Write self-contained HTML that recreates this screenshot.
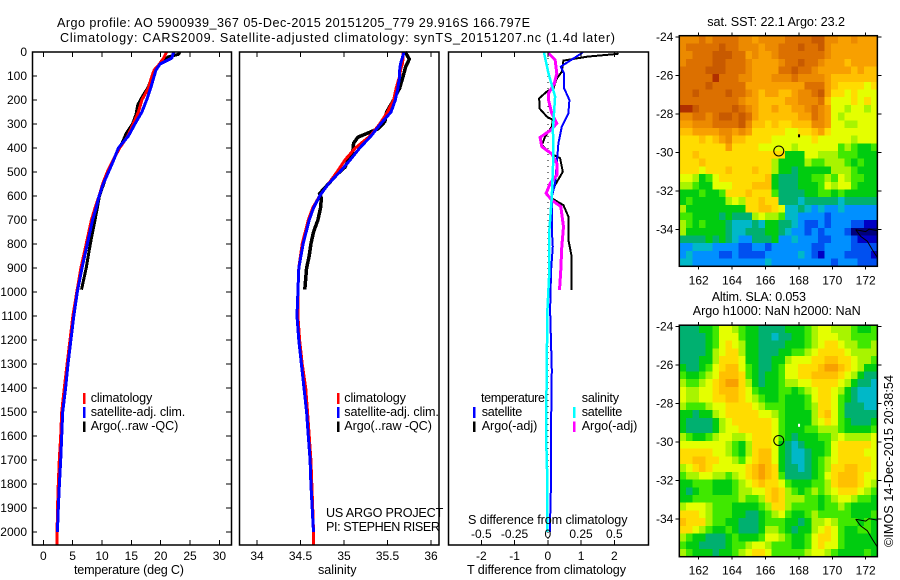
<!DOCTYPE html>
<html lang="en">
<head>
<meta charset="utf-8">
<title>Argo profile</title>
<style>
html,body{margin:0;padding:0;background:#fff;}
#chart{display:block;width:900px;height:580px;}
text{font-family:"Liberation Sans",sans-serif;font-size:12.6px;fill:#000;}
#ticks text{font-size:12px;}
</style>
</head>
<body>
<svg id="chart" xmlns="http://www.w3.org/2000/svg" width="900" height="580" viewBox="0 0 900 580">
  <text x="57" y="27" textLength="473" lengthAdjust="spacing">Argo profile: AO 5900939_367 05-Dec-2015 20151205_779 29.916S 166.797E</text>
  <text x="60" y="42" textLength="555" lengthAdjust="spacing">Climatology: CARS2009. Satellite-adjusted climatology: synTS_20151207.nc (1.4d later)</text>

  <g id="map1"></g>
  <g id="map2"></g>
  <g id="panel1"></g>
  <g id="panel2"></g>
  <g id="panel3"></g>
  <g id="ticks"></g>

  <text x="74" y="574" textLength="110" lengthAdjust="spacing">temperature (deg C)</text>
  <text x="318" y="574" textLength="38.5" lengthAdjust="spacing">salinity</text>
  <text x="467" y="574" textLength="159" lengthAdjust="spacing">T difference from climatology</text>
  <text x="468" y="524" textLength="159.5" lengthAdjust="spacing">S difference from climatology</text>

  <g>
    <rect x="83" y="393" width="2.5" height="11" fill="#ff0000"/>
    <text x="90.7" y="402" textLength="61.6" lengthAdjust="spacing">climatology</text>
    <rect x="83" y="407" width="2.5" height="11" fill="#0000ff"/>
    <text x="90.7" y="416" textLength="94.6" lengthAdjust="spacing">satellite-adj. clim.</text>
    <rect x="83" y="421.5" width="2.5" height="10.5" fill="#000000"/>
    <text x="90.7" y="430" textLength="87.6" lengthAdjust="spacing">Argo(..raw -QC)</text>
  </g>
  <g>
    <rect x="337" y="393" width="2.5" height="11" fill="#ff0000"/>
    <text x="344.3" y="402" textLength="61.6" lengthAdjust="spacing">climatology</text>
    <rect x="337" y="407" width="2.5" height="11" fill="#0000ff"/>
    <text x="344.3" y="416" textLength="94.6" lengthAdjust="spacing">satellite-adj. clim.</text>
    <rect x="337" y="421.5" width="2.5" height="10.5" fill="#000000"/>
    <text x="344.3" y="430" textLength="87.6" lengthAdjust="spacing">Argo(..raw -QC)</text>
  </g>
  <text x="326" y="517" textLength="117.3" lengthAdjust="spacing">US ARGO PROJECT</text>
  <text x="326" y="531" textLength="114" lengthAdjust="spacing">PI: STEPHEN RISER</text>
  <g>
    <text x="481" y="402" textLength="64" lengthAdjust="spacing">temperature</text>
    <text x="581.7" y="402" textLength="37.3" lengthAdjust="spacing">salinity</text>
    <rect x="473" y="407" width="2.5" height="11" fill="#0000ff"/>
    <text x="481.7" y="416" textLength="40.6" lengthAdjust="spacing">satellite</text>
    <rect x="473" y="421.5" width="2.5" height="10.5" fill="#000000"/>
    <text x="481.7" y="430" textLength="55.6" lengthAdjust="spacing">Argo(-adj)</text>
    <rect x="573" y="407" width="2.5" height="11" fill="#00ffff"/>
    <text x="581.7" y="416" textLength="40.6" lengthAdjust="spacing">satellite</text>
    <rect x="573" y="421.5" width="2.5" height="10.5" fill="#ff00ff"/>
    <text x="581.7" y="430" textLength="55.6" lengthAdjust="spacing">Argo(-adj)</text>
  </g>

  <text x="707.3" y="26" textLength="137.7" lengthAdjust="spacing">sat. SST: 22.1 Argo: 23.2</text>
  <text x="711.7" y="301" textLength="94.3" lengthAdjust="spacing">Altim. SLA: 0.053</text>
  <text x="692.7" y="315" textLength="168" lengthAdjust="spacing">Argo h1000: NaN h2000: NaN</text>
  <text transform="translate(893,547) rotate(-90)" x="0" y="0" textLength="172" lengthAdjust="spacing">©IMOS 14-Dec-2015 20:38:54</text>
</svg>

<script>
// ---- profile data ----
const climDepth = [0,25,50,75,100,150,200,250,300,350,400,450,500,550,600,650,700,800,900,1000,1100,1200,1300,1400,1500,1600,1700,1800,1900,2000,2054];
const climTemp = [21,20.5,19.8,18.9,18.5,17.9,16.8,16.2,15.3,14.4,13,11.9,10.9,10.1,9.5,8.8,8.2,7.3,6.4,5.7,5.05,4.55,4.05,3.58,3.13,2.96,2.73,2.55,2.42,2.35,2.35];
const climSal = [35.68,35.68,35.67,35.65,35.64,35.6,35.57,35.5,35.41,35.3,35.13,35.01,34.92,34.82,34.72,34.64,34.59,34.52,34.48,34.47,34.47,34.49,34.52,34.56,34.58,34.6,34.62,34.63,34.64,34.65,34.65];

const satDepth = [0,25,50,75,100,150,200,250,300,350,400,450,500,550,600,650,700,800,900,1000,1100,1200,1300,1400,1500,1600,1700,1800,1900,2000];
const satTemp = [22.2,21.9,19.9,19.2,18.9,18.3,17.6,16.8,15.6,14.5,12.8,12,11.1,10.2,9.5,9,8.4,7.5,6.6,5.8,5.2,4.7,4.2,3.8,3.3,3.13,2.96,2.75,2.55,2.4];
const satSal = [35.69,35.67,35.65,35.64,35.64,35.62,35.59,35.54,35.42,35.31,35.18,35.07,34.95,34.82,34.72,34.65,34.6,34.53,34.48,34.47,34.46,34.48,34.51,34.54,34.57,34.59,34.61,34.62,34.635,34.65];

const argoTempDepth = [0,10,20,50,75,100,150,180,220,260,300,340,380,420,500,600,650,700,800,900,990];
const argoTemp = [23.3,23,21.3,19.9,19,18.6,17.8,17,16.1,15.8,15.2,14.1,13.4,12.5,11,9.55,9.2,8.8,8,7.3,6.5];

const argoSalDepth = [0,10,30,60,100,150,200,250,290,320,340,355,380,420,450,480,510,550,590,610,650,700,750,800,850,900,990];
const argoSal = [35.7,35.72,35.75,35.71,35.68,35.64,35.57,35.49,35.47,35.39,35.26,35.16,35.11,35.1,35.05,35.01,34.92,34.82,34.72,34.74,34.73,34.7,34.65,34.62,34.6,34.57,34.55];

const diffArgoTDepth = [5,8,19,36,82,110,151,165,193,235,269,283,311,353,388,422,443,499,554,589,610,638,686,783,853,992];
const diffArgoT = [2.12,2.1,1.2,0.47,0.42,0.27,0.17,-0.03,-0.26,-0.25,-0.03,0.15,0.12,-0.08,-0.18,0.07,0.37,0.45,0.22,0.12,0.12,0.47,0.62,0.62,0.72,0.72];

const diffSatTDepth = [0,5,61,89,151,200,256,311,381,464,547,603,742,811,908,1075,1325,1550,1780,2000];
const diffSatT = [1.05,1.02,0.39,0.49,0.49,0.65,0.62,0.42,0.32,0.27,0.22,0.12,0.12,0.15,0.1,0.07,0.12,0.1,0.1,0.06];

const diffSatSDepth = [0,5,89,186,325,422,603,742,908,1075,1325,1600,1750,2000];
const diffSatS = [-0.028,-0.028,0.005,0.055,0.038,0.043,0.03,0.012,0.012,-0.003,-0.008,-0.013,-0.005,-0.002];

const diffArgoSDepth = [5,33,89,131,172,200,256,297,325,356,394,425,464,513,547,589,617,644,728,811,908,992];
const diffArgoS = [0.005,0.055,0.068,0.05,0.005,0.005,0.03,0.068,0.023,-0.058,-0.045,0.03,0.068,0.068,0.018,-0.013,0.03,0.098,0.118,0.105,0.098,0.088];

// ---- tick values ----
const depthTicks = [0,100,200,300,400,500,600,700,800,900,1000,1100,1200,1300,1400,1500,1600,1700,1800,1900,2000];
const tempTicks = [0,5,10,15,20,25,30];
const salTicks = [34,34.5,35,35.5,36];
const tDiffTicks = [-2,-1,0,1,2];
const sDiffTicks = [-0.5,-0.25,0,0.25,0.5];
const lonTicks = [162,164,166,168,170,172];
const latTicks = [-24,-26,-28,-30,-32,-34];

// ---- map data: colour level per cell ----
const levelColors = ['#00007c','#0000c4','#0050f0','#0090ff','#00b8c8','#00b070','#00cc10','#40e800','#a8f400','#e4ff00','#ffdc00','#ffc000','#f8a000','#ec8a00','#dc7000','#c85a00','#b03000'];
const sstLevels = [
[13,13,13,14,13,14,14,14,14,13,13,12,13,13,13,13,14,14,14,14,15,15,13,13,12,12,13,12,12,12],
[13,14,14,14,14,14,15,14,14,13,13,13,12,13,13,14,14,14,15,14,14,15,13,12,12,12,12,12,12,12],
[13,13,14,14,14,15,15,15,14,14,12,13,12,12,13,14,14,14,14,14,14,14,13,12,12,12,12,12,12,12],
[13,14,14,14,14,15,15,14,14,14,13,12,12,12,12,13,14,14,15,14,14,13,12,12,12,11,12,12,12,12],
[14,14,14,14,15,15,15,14,14,14,13,12,12,12,12,14,14,15,14,14,13,12,12,12,12,12,11,12,11,11],
[14,14,14,14,14,16,14,14,14,13,13,12,12,12,13,13,13,14,13,13,13,13,12,11,11,11,11,11,11,11],
[14,14,14,14,15,14,14,14,14,14,12,12,12,12,12,12,12,12,12,14,14,14,12,11,10,10,10,10,9,10],
[14,14,15,14,14,14,14,15,14,14,13,12,11,12,12,11,11,12,13,13,14,15,12,10,10,9,10,9,9,9],
[14,14,14,14,14,14,14,14,14,13,12,12,11,11,11,11,12,12,13,13,13,14,11,9,9,9,10,9,10,9],
[16,16,15,14,14,14,14,14,15,14,13,12,11,11,12,11,11,12,12,13,14,13,12,9,9,8,9,9,8,9],
[13,13,14,14,13,14,15,15,14,15,14,12,11,11,11,11,11,11,12,12,14,13,12,9,8,9,9,9,9,9],
[12,12,13,13,13,14,14,14,14,15,13,11,11,10,11,10,10,11,11,11,13,13,12,9,9,8,8,9,9,9],
[11,11,12,12,12,12,13,13,12,13,12,10,10,10,10,10,9,9,10,10,11,12,10,9,9,9,9,9,9,9],
[10,10,10,11,10,11,12,13,11,11,10,10,10,10,9,9,9,9,9,9,10,9,9,9,9,9,8,9,9,9],
[10,10,10,10,10,10,10,12,10,10,10,10,9,9,9,9,9,8,9,9,9,9,9,9,7,8,7,6,6,7],
[10,10,11,10,10,10,10,10,10,10,10,10,10,10,10,10,6,6,6,9,9,8,8,8,7,7,7,6,6,6],
[10,10,10,11,10,10,10,10,10,10,10,10,10,10,8,6,6,6,6,8,7,7,8,8,8,7,6,7,6,6],
[10,10,10,9,10,10,10,11,10,10,10,11,10,10,8,6,6,5,6,6,6,6,6,8,8,8,7,6,6,6],
[9,9,8,6,7,9,10,10,10,10,10,10,10,11,6,5,5,5,6,6,7,7,8,7,9,8,7,7,6,6],
[8,8,7,6,6,9,9,9,10,10,10,11,11,11,6,5,5,5,6,6,6,7,9,8,9,9,7,6,6,6],
[6,6,6,7,6,6,7,10,10,10,11,10,10,10,7,5,5,5,5,6,6,7,7,6,7,6,6,6,6,6],
[6,7,6,6,6,6,6,8,9,8,10,10,11,10,10,5,5,5,4,5,5,5,5,5,4,5,5,5,5,5],
[8,6,6,6,6,6,6,6,6,6,10,10,11,11,10,9,4,4,5,4,3,4,3,3,4,3,3,3,3,3],
[7,7,6,6,6,6,5,6,5,5,5,8,9,8,8,7,4,4,3,3,3,3,2,3,3,3,3,3,3,3],
[8,7,6,7,6,6,6,5,4,4,4,5,4,6,6,5,5,4,3,2,2,3,2,3,3,3,2,2,1,1],
[8,6,6,6,6,6,6,5,4,4,5,5,5,6,6,5,4,3,3,2,3,2,3,3,3,2,0,0,0,0],
[5,5,5,5,6,5,6,5,4,3,3,5,5,5,6,3,3,4,3,3,3,2,2,3,3,3,2,1,1,1],
[3,3,4,4,4,3,3,3,3,2,2,3,3,2,3,3,3,3,3,3,2,2,3,3,3,3,2,2,2,2],
[3,4,3,3,3,3,2,2,3,2,2,2,2,3,3,3,3,3,4,3,2,1,3,3,3,2,2,2,2,1],
[4,4,3,3,3,3,3,3,3,3,3,3,3,4,3,3,3,3,3,3,3,3,3,2,3,3,3,2,2,2]
];
const slaLevels = [
[5,5,5,6,6,7,9,9,8,7,6,6,5,5,5,5,6,6,6,7,8,9,9,8,8,8,7,6,6,7],
[5,5,5,5,6,7,9,9,9,7,6,6,5,5,4,5,5,6,6,7,8,9,9,9,8,8,7,7,7,7],
[5,5,5,5,6,7,9,10,9,8,6,6,5,5,5,5,6,6,6,7,8,9,10,10,9,8,8,7,7,8],
[5,5,5,5,6,8,9,10,10,8,6,6,5,5,5,6,6,7,7,8,9,10,10,10,10,9,8,8,8,8],
[5,5,5,6,6,8,10,10,10,9,6,6,5,5,6,6,8,9,9,9,10,10,11,11,10,10,9,8,8,7],
[6,5,5,6,7,9,10,11,11,9,7,6,5,5,6,7,9,9,10,10,10,11,12,12,11,10,9,8,6,6],
[7,6,6,7,8,9,11,11,11,10,7,6,5,6,6,7,9,9,10,10,11,11,11,11,10,9,8,6,5,5],
[8,7,7,8,9,10,11,12,12,10,8,6,5,6,6,7,8,8,9,9,10,10,10,10,9,8,6,5,5,4],
[9,8,8,9,9,10,11,11,11,10,9,7,6,6,6,7,7,6,7,8,9,10,10,9,8,6,5,4,4,4],
[9,8,8,9,9,10,10,11,11,10,9,8,7,6,6,7,6,6,6,7,9,10,10,9,7,6,5,4,4,4],
[8,7,7,7,8,9,9,10,10,10,10,9,8,7,7,7,6,6,6,7,8,10,10,9,7,5,5,5,4,4],
[6,6,5,6,6,8,9,10,10,10,10,10,9,9,8,7,6,6,6,6,8,10,11,9,7,5,5,5,5,5],
[6,5,5,5,5,6,8,9,10,10,10,10,10,10,9,7,6,6,6,6,8,9,10,9,7,6,5,5,5,6],
[6,5,5,5,5,6,8,9,9,10,10,10,10,10,9,7,6,6,6,7,7,8,8,8,7,6,6,6,6,7],
[8,7,6,6,7,8,9,9,8,8,9,10,10,10,9,7,6,5,6,6,6,7,7,8,9,8,8,8,8,9],
[9,9,9,9,9,9,9,8,7,6,8,10,10,10,9,6,5,4,5,6,6,6,7,9,10,10,10,10,10,9],
[10,10,10,10,10,9,9,8,7,6,8,10,11,11,9,6,5,4,4,5,6,6,7,9,10,10,10,10,9,9],
[10,10,11,11,10,10,9,9,8,7,9,10,11,11,9,6,5,4,4,5,6,7,8,9,10,10,10,10,10,9],
[8,9,10,11,10,9,9,9,9,9,10,11,12,11,10,6,5,5,4,5,6,7,8,10,10,11,11,10,10,9],
[7,8,8,9,9,8,8,7,8,9,10,11,12,11,10,7,5,5,5,5,6,7,9,10,11,11,11,10,9,9],
[6,6,7,7,7,6,6,6,7,8,9,10,11,10,10,9,7,6,6,6,7,7,8,10,11,11,11,10,9,8],
[6,5,6,7,7,6,6,6,7,8,8,9,9,10,11,10,8,7,6,7,8,7,8,9,10,10,10,9,8,7],
[6,6,7,7,7,7,7,7,7,8,7,7,8,10,11,10,8,8,8,7,7,6,7,8,9,9,8,7,7,6],
[8,9,9,9,8,7,7,7,6,6,6,6,7,8,10,10,8,7,7,7,7,6,7,7,8,7,6,6,6,6],
[10,10,10,9,8,7,7,7,6,6,5,5,6,7,8,9,7,6,6,7,8,7,7,7,7,7,6,6,6,7],
[11,10,10,10,8,7,7,6,6,5,5,5,6,7,7,7,6,6,5,6,8,8,9,8,7,7,7,6,7,6],
[10,10,9,8,7,6,6,7,6,5,5,5,6,8,8,7,6,5,6,6,8,9,10,9,7,6,6,7,7,6],
[8,7,6,6,5,5,5,6,7,6,6,6,7,9,9,8,7,6,6,7,9,10,10,9,7,6,6,6,6,6],
[7,6,6,5,5,5,5,6,7,7,8,9,9,8,7,7,7,6,6,7,9,10,9,9,7,6,6,6,6,6],
[8,7,6,6,6,5,6,6,7,8,9,10,10,9,7,7,7,7,7,8,9,9,8,7,6,6,6,6,7,6]
];
const coastLon = [171.4,171.7,172.1,172.4,172.7];
const coastLat = [-34.0,-34.35,-34.6,-35.05,-35.45];
const coastTopLon = [171.4,172.0,172.2,172.7];
const coastTopLat = [-34.0,-34.1,-33.97,-34.05];
const profileLon = 166.797;
const profileLat = -29.916;
const islandLon = 167.95;
const islandLat = -29.05;

// ---- axis functions ----
const xTemp = v => 43.3 + 5.87 * v;
const xSal = v => 257 + 87 * (v - 34);
const xTDiff = v => 547.8 + 33.25 * v;
const xSDiff = v => 547.8 + 133 * v;
const yDepth = d => 52 + 0.24 * d;
const lonX = lon => 679.3 + (lon - 160.84) * 16.7;
const latFrac = lat => (-23.97 - lat) * 19.27;

const NS = 'http://www.w3.org/2000/svg';
const make = tag => document.createElementNS(NS, tag);

function drawFrame(parent, name, x0, x1, y0, y1) {
  const el = make('rect');
  
  
  el.setAttribute('x', x0);
  el.setAttribute('y', y0);
  el.setAttribute('width', x1 - x0);
  el.setAttribute('height', y1 - y0);
  el.setAttribute('fill', 'none');
  el.setAttribute('stroke', '#000');
  el.setAttribute('stroke-width', '1.5');
  parent.appendChild(el);
}
function drawTick(parent, name, x1, y1, x2, y2) {
  const el = make('line');
  
  
  el.setAttribute('x1', x1);
  el.setAttribute('y1', y1);
  el.setAttribute('x2', x2);
  el.setAttribute('y2', y2);
  el.setAttribute('stroke', '#000');
  el.setAttribute('stroke-width', '1');
  el.setAttribute('shape-rendering', 'crispEdges');
  parent.appendChild(el);
}
function drawLabel(name, str, x, y, anchor) {
  const el = make('text');
  
  
  el.setAttribute('x', x);
  el.setAttribute('y', y);
  el.setAttribute('text-anchor', anchor);
  el.textContent = str;
  document.getElementById('ticks').appendChild(el);
}
function drawSeries(parent, name, values, depths, xFn, color, width) {
  const el = make('polyline');
  
  
  el.setAttribute('points', values.map((v, i) => xFn(v).toFixed(1) + ',' + yDepth(depths[i]).toFixed(1)).join(' '));
  el.setAttribute('fill', 'none');
  el.setAttribute('stroke', color);
  el.setAttribute('stroke-width', width);
  el.setAttribute('shape-rendering', 'crispEdges');
  parent.appendChild(el);
}
function drawMap(parent, levels, prefix, top, bottom) {
  const left = lonX(160.84);
  const right = lonX(172.7);
  const cw = (right - left) / levels[0].length;
  const ch = (bottom - top) / levels.length;
  levels.forEach((row, r) => {
    row.forEach((level, c) => {
      const el = make('rect');
      
      
      el.setAttribute('x', (left + c * cw).toFixed(2));
      el.setAttribute('y', (top + r * ch).toFixed(2));
      el.setAttribute('width', (cw + 0.5).toFixed(2));
      el.setAttribute('height', (ch + 0.5).toFixed(2));
      el.setAttribute('fill', levelColors[level]);
      el.setAttribute('shape-rendering', 'crispEdges');
      parent.appendChild(el);
    });
  });
  const latY = lat => top + 0.7 + latFrac(lat);
  drawFrame(parent, prefix + '-frame', left, right, top, bottom);
  lonTicks.forEach(lon => {
    drawTick(parent, prefix + '-lon-tick', lonX(lon), top, lonX(lon), top - 3);
    drawTick(parent, prefix + '-lon-tick', lonX(lon), bottom, lonX(lon), bottom + 3);
    drawLabel(prefix + '-lon-label', String(lon), lonX(lon), bottom + 18, 'middle');
  });
  latTicks.forEach(lat => {
    drawTick(parent, prefix + '-lat-tick', left, latY(lat), left - 4, latY(lat));
    drawTick(parent, prefix + '-lat-tick', right, latY(lat), right + 4, latY(lat));
    drawLabel(prefix + '-lat-label', String(lat), left - 6, latY(lat) + 4, 'end');
  });
  [[coastLon, coastLat], [coastTopLon, coastTopLat]].forEach(pair => {
    const el = make('polyline');
    
    
    el.setAttribute('points', pair[0].map((lon, i) => lonX(lon).toFixed(1) + ',' + latY(pair[1][i]).toFixed(1)).join(' '));
    el.setAttribute('fill', 'none');
    el.setAttribute('stroke', '#000');
    el.setAttribute('stroke-width', '1');
    parent.appendChild(el);
  });
  const island = make('rect');
  
  
  island.setAttribute('x', lonX(islandLon));
  island.setAttribute('y', latY(islandLat));
  island.setAttribute('width', '2');
  island.setAttribute('height', '3');
  island.setAttribute('fill', prefix === 'sla' ? '#fff' : '#000');
  parent.appendChild(island);
  const marker = make('circle');
  
  
  marker.setAttribute('cx', lonX(profileLon));
  marker.setAttribute('cy', latY(profileLat));
  marker.setAttribute('r', '5');
  marker.setAttribute('fill', 'none');
  marker.setAttribute('stroke', '#000');
  marker.setAttribute('stroke-width', '1');
  parent.appendChild(marker);
}

const PTOP = 52, PBOT = 545;
const panel1 = document.getElementById('panel1');
const panel2 = document.getElementById('panel2');
const panel3 = document.getElementById('panel3');

// temperature panel
drawSeries(panel1, 'argo-temperature-line', argoTemp, argoTempDepth, xTemp, '#000', 3);
drawSeries(panel1, 'climatology-temperature-line', climTemp, climDepth, xTemp, '#ff0000', 3);
drawSeries(panel1, 'satellite-temperature-line', satTemp, satDepth, xTemp, '#0000ff', 3);
drawFrame(panel1, 'temperature-plot-frame', 32.5, 231.5, PTOP, PBOT);
tempTicks.forEach(v => {
  drawTick(panel1, 'temperature-tick', xTemp(v), PTOP, xTemp(v), PTOP + 5);
  drawTick(panel1, 'temperature-tick', xTemp(v), PBOT, xTemp(v), PBOT - 5);
  drawLabel('temperature-tick-label', String(v), xTemp(v), 560, 'middle');
});
depthTicks.forEach(d => {
  drawTick(panel1, 'depth-tick', 32.5, yDepth(d), 37, yDepth(d));
  drawTick(panel1, 'depth-tick', 231.5, yDepth(d), 226, yDepth(d));
  drawLabel('depth-tick-label', String(d), 27, yDepth(d) + 4, 'end');
});

// salinity panel
drawSeries(panel2, 'argo-salinity-line', argoSal, argoSalDepth, xSal, '#000', 3.5);
drawSeries(panel2, 'climatology-salinity-line', climSal, climDepth, xSal, '#ff0000', 3);
drawSeries(panel2, 'satellite-salinity-line', satSal, satDepth, xSal, '#0000ff', 3);
drawFrame(panel2, 'salinity-plot-frame', 239.5, 439, PTOP, PBOT);
salTicks.forEach(v => {
  drawTick(panel2, 'salinity-tick', xSal(v), PTOP, xSal(v), PTOP + 5);
  drawTick(panel2, 'salinity-tick', xSal(v), PBOT, xSal(v), PBOT - 5);
  drawLabel('salinity-tick-label', String(v), xSal(v), 560, 'middle');
});

// difference panel
const zeroLine = make('line');


zeroLine.setAttribute('x1', xTDiff(0));
zeroLine.setAttribute('y1', PTOP);
zeroLine.setAttribute('x2', xTDiff(0));
zeroLine.setAttribute('y2', PBOT);
zeroLine.setAttribute('stroke', '#000');
zeroLine.setAttribute('stroke-width', '1');
zeroLine.setAttribute('stroke-dasharray', '1 5');
zeroLine.setAttribute('shape-rendering', 'crispEdges');
panel3.appendChild(zeroLine);
drawSeries(panel3, 't-diff-argo-line', diffArgoT, diffArgoTDepth, xTDiff, '#000', 2);
drawSeries(panel3, 't-diff-satellite-line', diffSatT, diffSatTDepth, xTDiff, '#0000ff', 2);
drawSeries(panel3, 's-diff-argo-line', diffArgoS, diffArgoSDepth, xSDiff, '#ff00ff', 3);
drawSeries(panel3, 's-diff-satellite-line', diffSatS, diffSatSDepth, xSDiff, '#00ffff', 2.5);
drawFrame(panel3, 'difference-plot-frame', 448.5, 648.5, PTOP, PBOT);
tDiffTicks.forEach(v => {
  drawTick(panel3, 't-diff-tick', xTDiff(v), PBOT, xTDiff(v), PBOT - 5);
  drawLabel('t-diff-tick-label', String(v), xTDiff(v), 560, 'middle');
});
sDiffTicks.forEach(v => {
  drawTick(panel3, 's-diff-tick', xSDiff(v), PTOP, xSDiff(v), PTOP + 5);
  drawLabel('s-diff-tick-label', String(v), xSDiff(v), 538, 'middle');
});

// maps
drawMap(document.getElementById('map1'), sstLevels, 'sst', 35.7, 266.3);
drawMap(document.getElementById('map2'), slaLevels, 'sla', 325.2, 556.7);
</script>
</body>
</html>
